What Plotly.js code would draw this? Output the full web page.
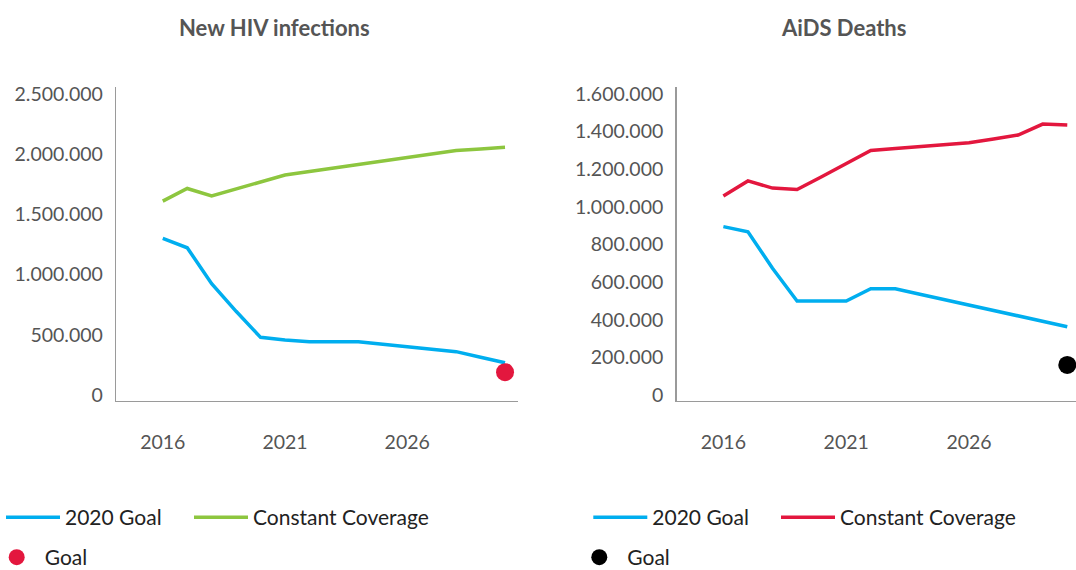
<!DOCTYPE html>
<html>
<head>
<meta charset="utf-8">
<script src="https://cdn.plot.ly/plotly-3.0.1.min.js"></script>
<style>
  html, body { margin: 0; padding: 0; background: #fff; }
  #chart { width: 1076px; height: 570px; }
</style>
</head>
<body>
<div id="chart"></div>
<script>
const years = [2016, 2017, 2018, 2019, 2020, 2021, 2022, 2023, 2024, 2025, 2026, 2027, 2028, 2029, 2030];

// New HIV infections
const hivGoal2020 = [1300000, 1223000, 925000, 695000, 479000, 457000, 443000, 443000, 443000, 421000, 399000, 377000, 360000, 314000, 268000];
const hivConstant = [1610000, 1715000, 1653000, 1712000, 1770000, 1827000, 1856000, 1885000, 1914000, 1943000, 1972000, 2000000, 2030000, 2043000, 2057000];
const hivTargetYear = [2030];
const hivTarget = [190000];

// AIDS deaths
const aidsGoal2020 = [895000, 868000, 674000, 500000, 500000, 500000, 565000, 565000, 536000, 507000, 478000, 449000, 421000, 392000, 363000];
const aidsConstant = [1058000, 1138000, 1100000, 1092000, 1160000, 1230000, 1300000, 1310000, 1320000, 1330000, 1341000, 1361000, 1382000, 1440000, 1435000];
const aidsTargetYear = [2030];
const aidsTarget = [160000];

const xTicks = [2016, 2021, 2026];

const blue = "#00aeef";
const green = "#8dc63f";
const red = "#e3173e";
const font = "Lato, 'Open Sans', sans-serif";

// one legend per entry so each can sit where the original puts it
const data = [
  { x: years, y: hivGoal2020, name: "2020 Goal", type: "scatter", mode: "lines",
    line: { color: blue, width: 3.5 }, xaxis: "x", yaxis: "y", legend: "legend" },
  { x: years, y: hivConstant, name: "Constant Coverage", type: "scatter", mode: "lines",
    line: { color: green, width: 3.5 }, xaxis: "x", yaxis: "y", legend: "legend2" },
  { x: hivTargetYear, y: hivTarget, name: "Goal", type: "scatter", mode: "markers",
    marker: { color: red, size: 18 }, cliponaxis: false, xaxis: "x", yaxis: "y", legend: "legend3" },

  { x: years, y: aidsGoal2020, name: "2020 Goal", type: "scatter", mode: "lines",
    line: { color: blue, width: 3.5 }, xaxis: "x2", yaxis: "y2", legend: "legend4" },
  { x: years, y: aidsConstant, name: "Constant Coverage", type: "scatter", mode: "lines",
    line: { color: red, width: 3.5 }, xaxis: "x2", yaxis: "y2", legend: "legend5" },
  { x: aidsTargetYear, y: aidsTarget, name: "Goal", type: "scatter", mode: "markers",
    marker: { color: "#000", size: 18 }, cliponaxis: false, xaxis: "x2", yaxis: "y2", legend: "legend6" }
];

const xaxisBase = {
  tickvals: xTicks,
  showgrid: false,
  zeroline: false,
  showline: true,
  linecolor: "#9a9a9a",
  linewidth: 1.5,
  ticks: "outside",
  ticklen: 23,
  tickcolor: "rgba(0,0,0,0)",
  tickfont: { family: font, size: 19.5, color: "#555" },
  fixedrange: true
};

const yaxisBase = {
  showgrid: false,
  zeroline: false,
  showline: true,
  linecolor: "#9a9a9a",
  linewidth: 1.5,
  ticks: "outside",
  ticklen: 8,
  tickcolor: "rgba(0,0,0,0)",
  tickformat: ",.0f",
  tick0: 0,
  tickfont: { family: font, size: 19.5, color: "#555" },
  fixedrange: true
};

const lineLegend = {
  orientation: "h",
  xanchor: "left",
  yanchor: "middle",
  bgcolor: "rgba(0,0,0,0)",
  font: { family: font, size: 21, color: "#222" },
  itemwidth: 54
};
const dotLegend = Object.assign({}, lineLegend, { itemwidth: 46 });

const row1 = 1 - 517.5 / 570;
const row2 = 1 - 557.5 / 570;

const layout = {
  width: 1076,
  height: 570,
  margin: { l: 0, r: 0, t: 0, b: 0, autoexpand: false },
  paper_bgcolor: "#fff",
  plot_bgcolor: "#fff",
  separators: ",.",
  font: { family: font },
  xaxis: Object.assign({}, xaxisBase, { domain: [0.1081, 0.4814], range: [2014.10, 2030.53], anchor: "y" }),
  yaxis: Object.assign({}, yaxisBase, { domain: [0.297, 0.8474], range: [-47300, 2558000], dtick: 500000, anchor: "x" }),
  xaxis2: Object.assign({}, xaxisBase, { domain: [0.6289, 1.0], range: [2014.10, 2030.355], anchor: "y2" }),
  yaxis2: Object.assign({}, yaxisBase, { domain: [0.297, 0.8474], range: [-30300, 1637400], dtick: 200000, anchor: "x2" }),
  legend: Object.assign({}, lineLegend, { x: 1 / 1076, y: row1 }),
  legend2: Object.assign({}, lineLegend, { x: 189 / 1076, y: row1 }),
  legend3: Object.assign({}, dotLegend, { x: -11.3 / 1076, y: row2 }),
  legend4: Object.assign({}, lineLegend, { x: 588.3 / 1076, y: row1 }),
  legend5: Object.assign({}, lineLegend, { x: 776 / 1076, y: row1 }),
  legend6: Object.assign({}, dotLegend, { x: 571.3 / 1076, y: row2 }),
  annotations: [
    { text: "<b>New HIV infections</b>", xref: "paper", yref: "paper", x: 274 / 1076, y: 1 - 27 / 570,
      xanchor: "center", yanchor: "middle", showarrow: false,
      font: { family: font, size: 22, color: "#555" } },
    { text: "<b>AiDS Deaths</b>", xref: "paper", yref: "paper", x: 843 / 1076, y: 1 - 27 / 570,
      xanchor: "center", yanchor: "middle", showarrow: false,
      font: { family: font, size: 22, color: "#555" } }
  ],
  showlegend: true
};

Plotly.newPlot("chart", data, layout, { displayModeBar: false, staticPlot: true });
</script>
</body>
</html>
